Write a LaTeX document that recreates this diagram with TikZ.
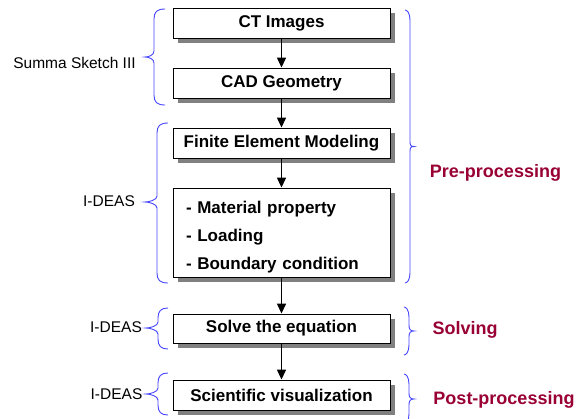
\documentclass[tikz,border=0pt]{standalone}
\usepackage{fontspec}
\setmainfont{Liberation Sans}
\usetikzlibrary{arrows.meta,shadows}
\definecolor{brc}{RGB}{70,70,255}
\definecolor{lblred}{RGB}{153,0,51}
\definecolor{shd}{RGB}{128,128,128}
\newcommand\LeftBr[6]{%
  \draw[bracestyle] (#1,#4) .. controls ({#2+3},#4) and (#2,{#4+3}) .. (#2,{#4+10})
    -- (#2,{#5-6}) .. controls (#2,{#5-2}) and ({#3+4},#5) .. (#3,#5)
    .. controls ({#3+4},#5) and (#2,{#5+2}) .. (#2,{#5+6})
    -- (#2,{#6-10}) .. controls (#2,{#6-3}) and ({#2+3},#6) .. (#1,#6);}
\newcommand\RightBr[6]{%
  \draw[bracestyle] (#1,#4) .. controls ({#2-3},#4) and (#2,{#4+3}) .. (#2,{#4+10})
    -- (#2,{#5-6}) .. controls (#2,{#5-2}) and ({#3-4},#5) .. (#3,#5)
    .. controls ({#3-4},#5) and (#2,{#5+2}) .. (#2,{#5+6})
    -- (#2,{#6-10}) .. controls (#2,{#6-3}) and ({#2-3},#6) .. (#1,#6);}
\begin{document}
\begin{tikzpicture}[x=1pt,y=-1pt,
  bracestyle/.style={draw=brc,line width=0.9pt},
  stepbox/.style={draw=black,line width=0.9pt,fill=white,minimum width=217pt,
    minimum height=30pt,inner sep=0pt,
    font=\fontsize{17}{20}\selectfont\bfseries,
    drop shadow={shadow xshift=5pt,shadow yshift=-5pt,fill=shd,opacity=1}},
  flow/.style={line width=1.4pt,-{Triangle[length=10pt,width=9pt]}},
  toolname/.style={font=\fontsize{15.5}{18}\selectfont,inner sep=0pt},
  phase/.style={font=\fontsize{18}{21}\selectfont\bfseries,text=lblred,inner sep=0pt}]
\useasboundingbox (0,0) rectangle (584,418);
\fill[white] (0,0) rectangle (584,418);

\node[stepbox] (ct) at (281.5,23) {CT Images};
\node[stepbox] (cad) at (281.5,83) {CAD Geometry};
\node[stepbox] (fem) at (281.5,143) {Finite Element Modeling};
\node[stepbox,minimum height=0pt,text height=25pt,text depth=64pt,inner ysep=0pt,
  text width=191pt,align=left,inner xsep=13pt,
  font=\fontsize{17}{28}\selectfont\bfseries] (mat) at (281.5,232.5)
  {- Material property\\- Loading\\- Boundary condition};
\node[stepbox,minimum height=29pt] (solve) at (281.5,328.5) {Solve the equation};
\node[stepbox] (sci) at (281.5,395) {Scientific visualization};

\draw[flow] (ct) -- (cad);
\draw[flow] (cad) -- (fem);
\draw[flow] (fem) -- (mat);
\draw[flow] (mat) -- (solve);
\draw[flow] (solve) -- (sci);

% left braces
\LeftBr{165}{154}{145}{9}{57}{105}
\LeftBr{168}{157}{145}{123}{202}{283}
\LeftBr{168}{158}{146}{308}{328}{349}
\LeftBr{168}{158}{146}{373}{394}{415}
% right braces
\RightBr{405}{410}{414}{10}{146.5}{283}
\RightBr{404}{409}{414}{307}{331}{355}
\RightBr{404}{409}{414}{374}{399}{424}

\node[toolname] (summa) at (74.5,63) {Summa Sketch III};
\node[toolname] (ideas1) at (109,201.5) {I-DEAS};
\node[toolname] (ideas2) at (116,327) {I-DEAS};
\node[toolname] (ideas3) at (116.5,394) {I-DEAS};

\node[phase] (pre) at (495.5,173) {Pre-processing};
\node[phase] (solving) at (465,330) {Solving};
\node[phase] (post) at (504,400) {Post-processing};
\end{tikzpicture}
\end{document}
